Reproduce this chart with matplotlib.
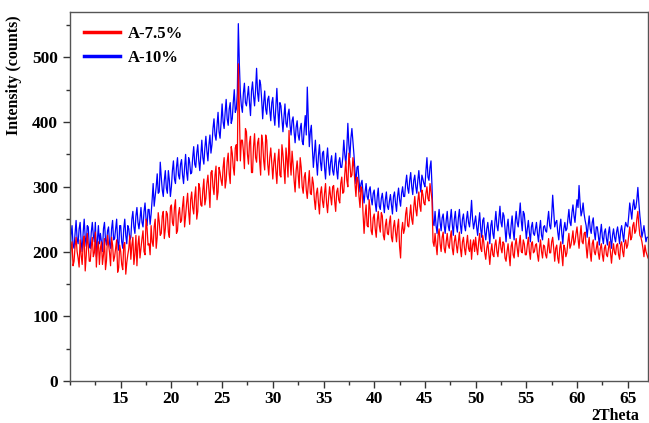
import numpy as np
import matplotlib
matplotlib.use("Agg")
import matplotlib.pyplot as plt
from matplotlib.ticker import MultipleLocator

# 2-theta grid: 10.0 .. 67.0 in 0.1 steps (readings at even and odd tenths)
two_theta = np.round(np.arange(10.0, 67.0001, 0.1), 1)

# A-7.5% readings at 10.0, 10.2, ... 67.0
a75_even = [
    172, 215, 185, 222, 190,  218, 180, 224, 193, 210,  185, 222, 198, 176, 215,
    205, 180, 220, 186, 212,  178, 210, 192, 218, 175,  200, 172, 214, 183, 205,
    188, 222, 196, 178, 224,  205, 232, 195, 236, 212,  240, 208, 250, 222, 246,
    228, 262, 235, 258, 222,  272, 240, 280, 232, 268,  248, 285, 255, 290, 242,
    292, 258, 300, 262, 298,  270, 312, 282, 318, 268,  325, 288, 332, 292, 322,
    302, 345, 310, 352, 305,  352, 318, 365, 490, 340,  372, 328, 385, 335, 378,
    322, 382, 338, 375, 318,  368, 326, 372, 318, 360,  312, 352, 305, 358, 315,
    350, 305, 342, 387, 318,  335, 292, 340, 298, 330,  290, 322, 282, 325, 288,
    305, 265, 298, 258, 300,  268, 305, 260, 300, 272,  302, 262, 298, 275, 315,
    292, 340, 300, 335, 318,  330, 285, 310, 268, 295,  228, 272, 238, 265, 226,
    258, 222, 262, 230, 255,  218, 250, 226, 255, 215,  248, 215, 250, 190, 245,
    235, 268, 238, 272, 242,  285, 255, 292, 262, 288,  272, 300, 278, 292, 215,
    228, 195, 235, 200, 230,  198, 228, 205, 232, 195,  225, 198, 230, 192, 222,
    195, 225, 200, 188, 218,  222, 195, 228, 200, 215,  188, 215, 180, 212, 192,
    218, 192, 222, 198, 212,  185, 212, 178, 215, 190,  220, 192, 225, 198, 212,
    195, 222, 188, 215, 200,  212, 185, 218, 190, 208,  190, 220, 198, 222, 185,
    210, 182, 215, 178, 205,  198, 228, 210, 232, 215,  238, 205, 240, 212, 230,
    190, 222, 185, 218, 195,  215, 188, 212, 185, 210,  192, 215, 182, 212, 195,
    212, 188, 215, 192, 218,  210, 238, 222, 245, 232,  262, 225, 215, 192, 200,
    190,
]
# A-7.5% readings at 10.1, 10.3, ... 66.9
a75_odd = [
    205, 178, 208, 200, 176,  195, 212, 170, 228, 185,  208, 192, 230, 205, 180,
    215, 195, 172, 225, 198,  222, 185, 205, 168, 210,  180, 210, 165, 195, 225,
    210, 180, 225, 210, 190,  220, 200, 250, 210, 195,  215, 238, 205, 260, 225,
    255, 220, 262, 230, 268,  245, 268, 228, 258, 245,  270, 238, 275, 262, 280,
    268, 285, 250, 305, 272,  295, 272, 305, 295, 322,  300, 318, 280, 330, 310,
    330, 298, 338, 320, 362,  330, 360, 340, 420, 372,  355, 390, 350, 368, 322,
    362, 345, 368, 340, 380,  340, 380, 335, 345, 335,  338, 325, 340, 318, 365,
    328, 360, 315, 340, 355,  310, 325, 318, 345, 300,  315, 295, 305, 290, 315,
    280, 290, 275, 290, 278,  290, 275, 282, 285, 300,  278, 292, 280, 305, 290,
    320, 310, 352, 315, 345,  305, 315, 285, 300, 258,  255, 240, 280, 232, 252,
    235, 248, 240, 260, 225,  240, 228, 245, 222, 238,  230, 238, 208, 232, 228,
    258, 240, 255, 250, 268,  265, 278, 270, 295, 275,  290, 282, 305, 280, 208,
    210, 225, 212, 222, 205,  215, 210, 222, 205, 215,  210, 215, 205, 215, 205,
    212, 205, 218, 210, 200,  205, 215, 205, 225, 198,  205, 198, 200, 195, 210,
    200, 210, 205, 215, 190,  200, 195, 208, 195, 210,  205, 212, 200, 218, 195,
    210, 200, 212, 198, 210,  195, 205, 200, 210, 195,  205, 198, 215, 205, 205,
    190, 205, 195, 210, 192,  215, 205, 220, 210, 228,  220, 225, 215, 228, 208,
    210, 198, 212, 200, 205,  198, 205, 195, 205, 195,  205, 198, 200, 198, 210,
    195, 210, 200, 212, 205,  225, 218, 240, 228, 250,  240, 222, 205, 210, 195,
]

# A-10% readings at 10.0, 10.2, ... 67.0
a10_even = [
    195, 240, 205, 248, 212,  245, 200, 250, 208, 238,  205, 245, 215, 192, 240,
    228, 200, 245, 210, 238,  205, 248, 220, 250, 202,  240, 205, 250, 212, 235,
    222, 262, 228, 268, 235,  268, 238, 275, 240, 265,  258, 305, 285, 320, 292,
    315, 285, 325, 290, 310,  300, 340, 305, 345, 312,  342, 305, 350, 310, 338,
    322, 362, 330, 365, 325,  372, 335, 378, 340, 380,  365, 405, 372, 415, 375,
    428, 390, 435, 395, 430,  405, 450, 420, 552, 445,  415, 460, 425, 455, 410,
    462, 425, 483, 432, 458,  405, 448, 412, 440, 402,  438, 395, 452, 392, 425,
    385, 428, 392, 420, 380,  408, 368, 402, 372, 398,  365, 410, 454, 362, 395,
    330, 372, 318, 365, 325,  355, 312, 360, 318, 348,  318, 352, 312, 345, 330,
    372, 335, 398, 345, 390,  350, 305, 332, 292, 310,  275, 305, 280, 300, 272,
    295, 262, 298, 265, 290,  260, 292, 265, 288, 258,  292, 262, 298, 270, 300,
    285, 318, 290, 322, 288,  318, 290, 325, 292, 312,  300, 345, 310, 340, 245,
    262, 228, 265, 232, 258,  228, 262, 232, 265, 225,  262, 230, 265, 228, 258,
    232, 262, 238, 279, 235,  255, 225, 260, 222, 252,  218, 245, 212, 248, 220,
    262, 232, 270, 238, 255,  215, 250, 220, 255, 218,  262, 238, 275, 232, 258,
    220, 248, 215, 245, 225,  245, 215, 248, 218, 240,  230, 262, 235, 287, 238,
    248, 218, 250, 212, 245,  235, 265, 240, 272, 245,  280, 302, 255, 275, 248,
    222, 255, 228, 252, 218,  238, 210, 242, 212, 235,  210, 238, 205, 235, 215,
    238, 212, 240, 215, 245,  238, 275, 250, 280, 268,  299, 255, 222, 240, 215,
    222,
]
# A-10% readings at 10.1, 10.3, ... 66.9
a10_odd = [
    225, 210, 228, 220, 235,  215, 230, 222, 240, 210,  230, 225, 245, 218, 212,
    215, 235, 218, 232, 212,  235, 218, 235, 215, 240,  215, 235, 225, 240, 218,
    250, 238, 255, 245, 250,  245, 262, 250, 265, 242,  280, 270, 300, 290, 338,
    295, 310, 298, 325, 285,  325, 312, 330, 318, 335,  318, 330, 322, 345, 320,
    345, 335, 352, 340, 348,  345, 360, 355, 365, 352,  390, 380, 395, 385, 400,
    400, 415, 405, 420, 398,  430, 415, 445, 490, 425,  445, 430, 440, 430, 448,
    440, 450, 445, 465, 435,  430, 420, 435, 418, 430,  410, 425, 418, 430, 405,
    408, 398, 412, 395, 402,  385, 392, 380, 390, 370,  390, 380, 405, 385, 360,
    352, 340, 348, 338, 352,  330, 342, 335, 338, 325,  335, 325, 338, 330, 345,
    350, 360, 365, 375, 370,  325, 330, 310, 305, 290,  292, 285, 295, 282, 290,
    275, 285, 270, 282, 275,  280, 270, 278, 272, 285,  275, 285, 280, 290, 285,
    305, 298, 310, 300, 310,  300, 310, 305, 318, 305,  325, 315, 330, 300, 240,
    240, 250, 245, 252, 240,  248, 240, 250, 242, 250,  240, 252, 242, 250, 240,
    250, 245, 255, 250, 245,  238, 245, 235, 248, 230,  235, 230, 240, 228, 245,
    240, 252, 245, 260, 235,  238, 228, 240, 232, 245,  245, 255, 248, 262, 240,
    235, 230, 238, 228, 235,  228, 235, 225, 238, 232,  248, 240, 255, 262, 245,
    230, 238, 228, 235, 232,  250, 245, 260, 255, 265,  268, 275, 262, 258, 240,
    240, 235, 245, 230, 238,  225, 228, 222, 230, 220,  228, 220, 225, 222, 230,
    225, 232, 228, 235, 240,  255, 262, 270, 265, 280,  275, 240, 230, 228, 222,
]


def merge(even, odd):
    out = []
    for i, v in enumerate(even):
        out.append(v)
        if i < len(odd):
            out.append(odd[i])
    return out


a75 = merge(a75_even, a75_odd)
a10 = merge(a10_even, a10_odd)

labels = ["A-7.5%", "A-10%"]
colors = ["#ff0000", "#0000ff"]

plt.rcParams['font.family'] = ['Liberation Serif', 'DejaVu Serif']
plt.rcParams['font.weight'] = 'bold'

fig = plt.figure(figsize=(6.49, 4.23), dpi=100)
ax = fig.add_axes([70/649, 42/423, 578/649, 369/423])

l2, = ax.plot(two_theta, a10, color=colors[1], lw=0.9, label=labels[1])
l1, = ax.plot(two_theta, a75, color=colors[0], lw=0.9, label=labels[0])

ax.set_xlim(10, 67)
ax.set_ylim(0, 570)
ax.set_xticks([15, 20, 25, 30, 35, 40, 45, 50, 55, 60, 65])
ax.xaxis.set_minor_locator(MultipleLocator(2.5))
ax.yaxis.set_major_locator(MultipleLocator(100))
ax.yaxis.set_minor_locator(MultipleLocator(50))
ax.tick_params(axis='both', which='major', direction='out', length=5, width=1,
               labelsize=12.5, colors='#333333', labelcolor='black')
ax.tick_params(axis='x', which='major', pad=2)
ax.tick_params(axis='both', which='minor', direction='out', length=3, width=1,
               colors='#333333')
ax.tick_params(top=False, right=False)
for lab in ax.get_xticklabels() + ax.get_yticklabels():
    lab.set_fontweight('bold')
for s in ax.spines.values():
    s.set_color('#555555')
    s.set_linewidth(1.0)

ax.set_ylabel("Intensity (counts)", fontsize=11.5, fontweight='bold')
ax.yaxis.set_label_coords(-0.083, 0.83)
ax.set_xlabel("2Theta", fontsize=11.5, fontweight='bold')
ax.xaxis.set_label_coords(0.943, -0.073)

leg = ax.legend(handles=[l1, l2], loc='upper left', frameon=False,
                fontsize=12, handlelength=2.15, handletextpad=0.5,
                borderaxespad=0.45, labelspacing=0.45)
for t in leg.get_texts():
    t.set_fontweight('bold')
for h in leg.get_lines():
    h.set_linewidth(2.5)

fig.savefig("out.png", dpi=100)
